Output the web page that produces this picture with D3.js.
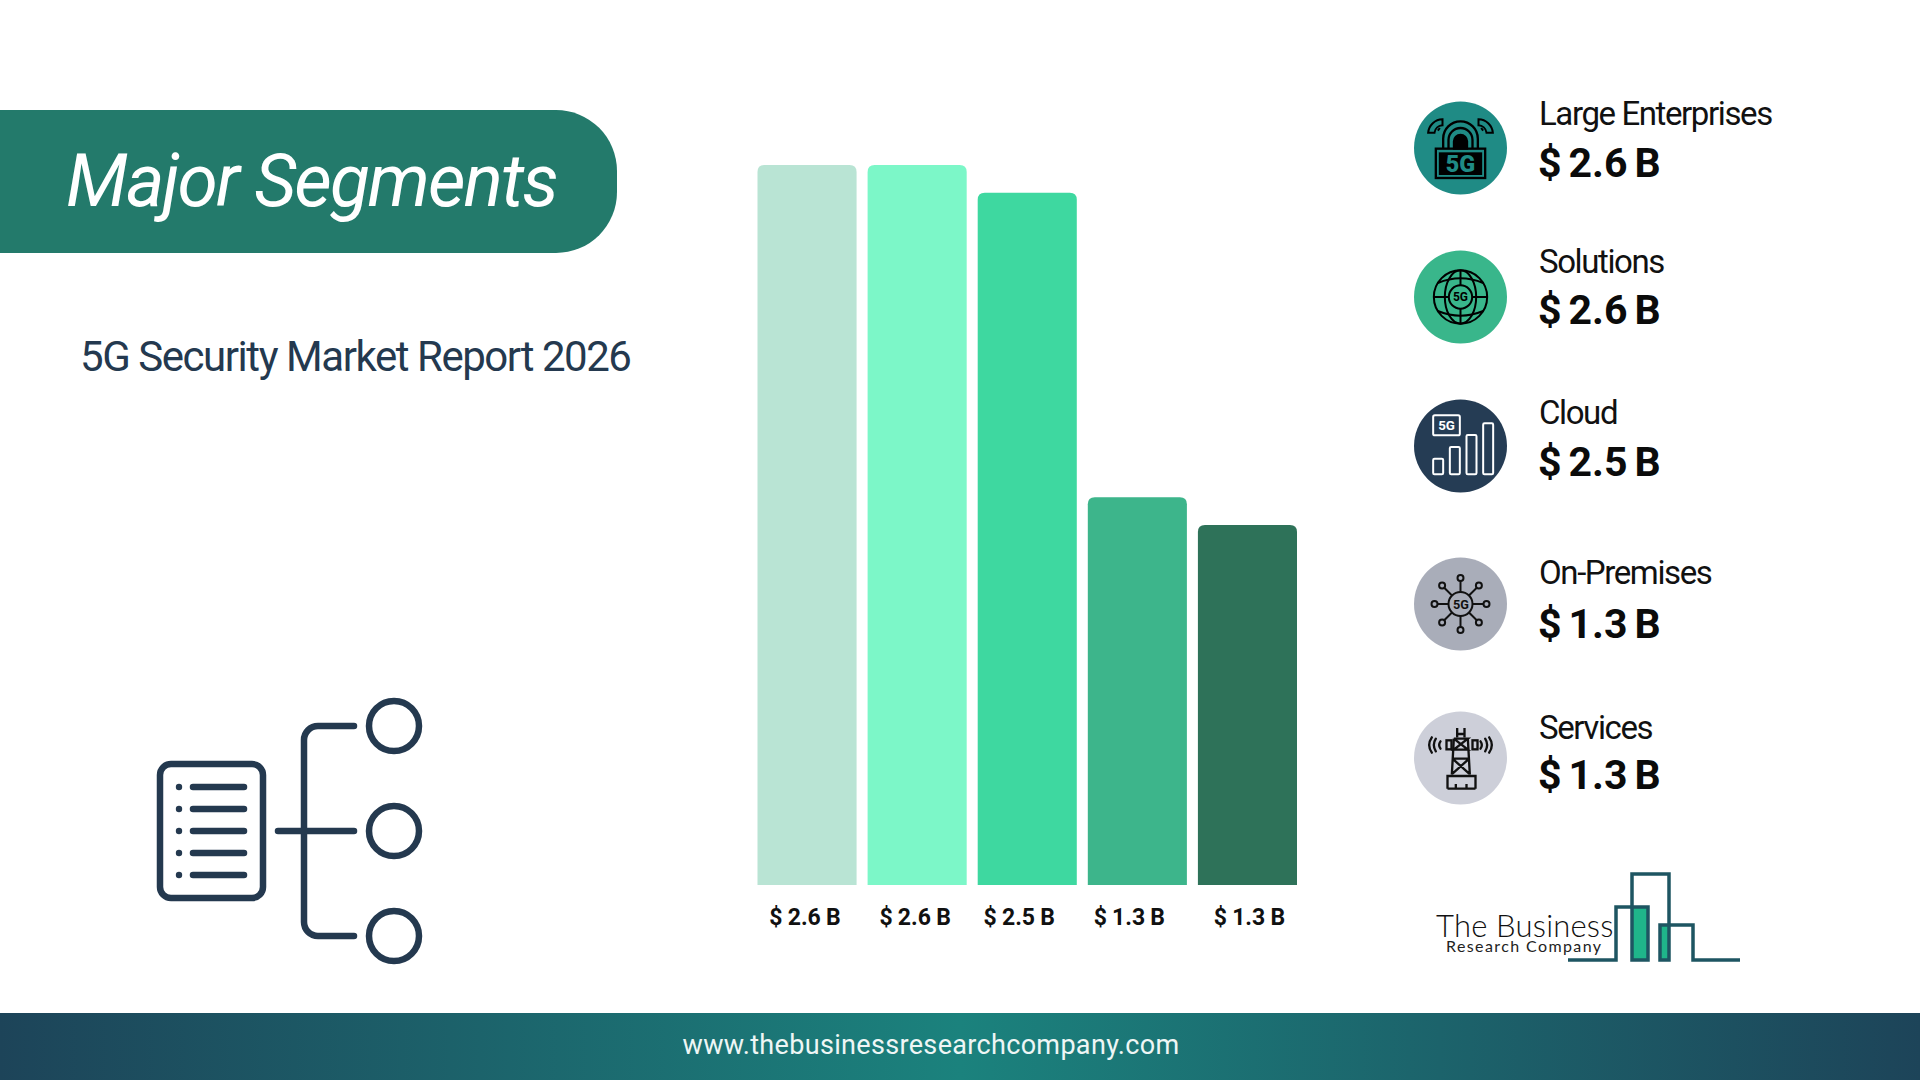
<!DOCTYPE html>
<html lang="en">
<head>
<meta charset="UTF-8">
<title>5G Security Market Report 2026 - Major Segments</title>
<script src="https://cdn.jsdelivr.net/npm/d3@7"></script>
<style>
    html, body { margin: 0; padding: 0; background: #fff; }
    svg { display: block; }
    text { font-family: Roboto, Arial, sans-serif; }
</style>
</head>
<body>
<svg id="chart" width="1920" height="1080"></svg>
<script>
// data
const categories = ["Large Enterprises", "Solutions", "Cloud", "On-Premises", "Services"];
const barValues = [2.6, 2.6, 2.5, 1.4, 1.3];
const valueLabels = ["$ 2.6 B", "$ 2.6 B", "$ 2.5 B", "$ 1.3 B", "$ 1.3 B"];
const barColors = ["#b9e4d4", "#7cf7c8", "#3ed8a0", "#3db58b", "#2e7259"];
const iconColors = ["#1f8b85", "#39b68b", "#253c54", "#a9adb9", "#cdcfd9"];

const svg = d3.select("#chart");
const defs = svg.append("defs");

const navy = "#24394f";

// footer
const grad = defs.append("linearGradient").attr("id", "footerGrad");
grad.append("stop").attr("offset", "0%").attr("stop-color", "#1d4459");
grad.append("stop").attr("offset", "50%").attr("stop-color", "#1b827d");
grad.append("stop").attr("offset", "100%").attr("stop-color", "#1d4459");
svg.append("rect").attr("x", 0).attr("y", 1013).attr("width", 1920).attr("height", 67).attr("fill", "url(#footerGrad)");
svg.append("text").attr("x", 931).attr("y", 1054).attr("text-anchor", "middle")
    .attr("font-size", 27).attr("letter-spacing", 0.33).attr("fill", "#eef6f5")
    .text("www.thebusinessresearchcompany.com");

// title pill
svg.append("path")
    .attr("d", "M0,110 H556 A61,61 0 0 1 617,171 V192 A61,61 0 0 1 556,253 H0 Z")
    .attr("fill", "#237a6b");
svg.append("text").attr("x", 66).attr("y", 206)
    .attr("font-size", 73).attr("font-style", "italic").attr("font-weight", 400)
    .attr("letter-spacing", -1.9).attr("fill", "#fff").text("Major Segments");
svg.append("text").attr("x", 80).attr("y", 371)
    .attr("font-size", 42).attr("letter-spacing", -1.45).attr("fill", navy)
    .text("5G Security Market Report 2026");

// segments icon, bottom left
const seg = svg.append("g").attr("fill", "none").attr("stroke", navy)
    .attr("stroke-width", 6.5).attr("stroke-linecap", "round");
seg.append("rect").attr("x", 160).attr("y", 764).attr("width", 103).attr("height", 134).attr("rx", 11);
[787, 809, 831, 853, 875].forEach(y => {
    seg.append("line").attr("x1", 193).attr("x2", 244).attr("y1", y).attr("y2", y);
    seg.append("circle").attr("cx", 179).attr("cy", y).attr("r", 3.2).attr("fill", navy).attr("stroke", "none");
});
seg.append("path").attr("d", "M354,726 H318 A14,14 0 0 0 304,740 V922 A14,14 0 0 0 318,936 H354");
seg.append("line").attr("x1", 278).attr("x2", 354).attr("y1", 831).attr("y2", 831);
[726, 831, 936].forEach(y => {
    seg.append("circle").attr("cx", 394).attr("cy", y).attr("r", 25).attr("stroke-width", 6.5);
});

// bars
const x = d3.scaleBand().domain(d3.range(barValues.length)).range([757.5, 1297]).paddingInner(0.1);
const y = d3.scaleLinear().domain([0, 2.6]).range([885, 165]);
const labelNudge = [-2, -2, -8, -8, 2];

function topRounded(x0, y0, w, h, r) {
    const p = d3.path();
    p.moveTo(x0, y0 + h);
    p.lineTo(x0, y0 + r);
    p.quadraticCurveTo(x0, y0, x0 + r, y0);
    p.lineTo(x0 + w - r, y0);
    p.quadraticCurveTo(x0 + w, y0, x0 + w, y0 + r);
    p.lineTo(x0 + w, y0 + h);
    p.closePath();
    return p.toString();
}

svg.append("g").selectAll("path").data(barValues).join("path")
    .attr("d", (d, i) => topRounded(x(i), y(d), x.bandwidth(), y(0) - y(d), 7))
    .attr("fill", (d, i) => barColors[i]);

svg.append("g").selectAll("text").data(valueLabels).join("text")
    .attr("x", (d, i) => x(i) + x.bandwidth() / 2 + labelNudge[i])
    .attr("y", 925)
    .attr("text-anchor", "middle")
    .attr("font-size", 23).attr("font-weight", 700).attr("word-spacing", -0.5).attr("fill", "#111")
    .text(d => d);

// legend on the right
const legendCy = [148, 297, 446, 604, 758];
const nameBase = [125, 273, 424, 584, 739];
const valueBase = [177, 324, 476, 638, 789];

categories.forEach((name, i) => {
    svg.append("circle").attr("cx", 1460.5).attr("cy", legendCy[i]).attr("r", 46.5).attr("fill", iconColors[i]);
    svg.append("text").attr("x", 1539).attr("y", nameBase[i])
        .attr("font-size", 33).attr("letter-spacing", -1.4).attr("fill", "#111").text(name);
    svg.append("text").attr("x", 1538).attr("y", valueBase[i])
        .attr("font-size", 41).attr("font-weight", 700).attr("word-spacing", -3.2).attr("fill", "#0b0b0b").text(valueLabels[i]);
});

// icons are drawn in 3x units around the circle centre
function iconGroup(i, stroke) {
    return svg.append("g")
        .attr("transform", `translate(1460.5,${legendCy[i]}) scale(0.3333)`)
        .attr("fill", "none").attr("stroke", stroke).attr("stroke-width", 6);
}
function iconText(g, label, size, fill, cx, dy, weight) {
    g.append("text").attr("x", cx).attr("y", dy).attr("text-anchor", "middle").attr("font-size", size)
        .attr("font-weight", weight || 700)
        .attr("fill", fill).attr("stroke", "none").text(label);
}

// lock
const lock = iconGroup(0, "#000");
lock.append("path").attr("stroke-width", 7).attr("d", "M-52,2 V-28 A52,52 0 0 1 52,-28 V2");
lock.append("path").attr("stroke-width", 7).attr("d", "M-36,2 V-24 A36,36 0 0 1 36,-24 V2");
lock.append("path").attr("fill", "#000").attr("d", "M-20,2 V-20 A20,20 0 0 1 20,-20 V2 Z");
lock.append("rect").attr("x", -74).attr("y", 2).attr("width", 148).attr("height", 88).attr("stroke-width", 7);
lock.append("rect").attr("x", -62).attr("y", 16).attr("width", 124).attr("height", 62).attr("fill", "#000");
iconText(lock, "5G", 70, iconColors[0], 0, 72, 900);
[-1, 1].forEach(s => {
    const w = lock.append("g").attr("transform", `scale(${s},1)`).attr("stroke-width", 6);
    w.append("path").attr("d", "M54,-86 A44,44 0 0 1 97,-46 L78,-46 A26,26 0 0 0 54,-68 Z");
    w.append("path").attr("d", "M62,-60 L68,-52");
});

// globe
const globe = iconGroup(1, "#000");
globe.append("circle").attr("r", 80);
globe.append("ellipse").attr("rx", 47).attr("ry", 80);
globe.append("line").attr("y1", -80).attr("y2", 80);
globe.append("path").attr("d", "M-68,-42 Q0,-70 68,-42 M-68,42 Q0,70 68,42");
globe.append("line").attr("x1", -80).attr("x2", 80);
globe.append("circle").attr("r", 35).attr("fill", iconColors[1]);
iconText(globe, "5G", 36, "#000", 0, 13);

// signal bars
const signal = iconGroup(2, "#fff");
signal.append("rect").attr("x", -82).attr("y", -92).attr("width", 80).attr("height", 60).attr("rx", 5);
iconText(signal, "5G", 40, "#fff", -42, -47);
[[-82, 38], [-32, 3], [18, -33], [68, -68]].forEach(b => {
    signal.append("rect").attr("x", b[0]).attr("y", b[1]).attr("width", 30).attr("height", 85 - b[1]).attr("rx", 4);
});

// network node
const node = iconGroup(3, "#111");
node.append("circle").attr("r", 36);
iconText(node, "5G", 38, "#111", 1, 14);
d3.range(8).forEach(k => {
    const a = k * Math.PI / 4;
    const c = Math.cos(a), s = Math.sin(a);
    node.append("line").attr("x1", 36 * c).attr("y1", 36 * s).attr("x2", 69 * c).attr("y2", 69 * s);
    node.append("circle").attr("cx", 78 * c).attr("cy", 78 * s).attr("r", 9);
});

// antenna tower
const tower = iconGroup(4, "#111").attr("stroke-width", 7);
tower.append("path").attr("d",
    "M-10,-90 V-62 M12,-90 V-62 M-10,-72 H12 M-20,-58 H22 L-20,-25 H22 L-20,-58 " +
    "M-20,-58 L-26,50 M22,-58 L28,50 M-24,2 L26,47 M26,2 L-24,47 M-24,2 H26");
tower.append("path").attr("d", "M-39,92 V54 H45 V92 M-39,92 H45 M-14,78 V92 M18,78 V92");
tower.append("rect").attr("x", -42).attr("y", -53).attr("width", 15).attr("height", 27);
tower.append("rect").attr("x", 36).attr("y", -53).attr("width", 15).attr("height", 27);
[-1, 1].forEach(s => {
    const w = tower.append("g").attr("transform", `scale(${s},1)`).attr("stroke-linecap", "round");
    w.append("path").attr("d", "M60,-50 Q68,-39 60,-28");
    w.append("path").attr("d", "M74,-58 Q86,-39 74,-20");
    w.append("path").attr("d", "M86,-62 Q102,-39 86,-16");
});

// logo
const logoLine = "#1e5562";
svg.append("rect").attr("x", 1632).attr("y", 907).attr("width", 16).attr("height", 53).attr("fill", "#1fb58a");
svg.append("rect").attr("x", 1660).attr("y", 925).attr("width", 9).attr("height", 35).attr("fill", "#1fb58a");
svg.append("path")
    .attr("d", "M1568,960 H1616 V907 H1648 V960 H1632 V874 H1669 V960 H1660 V925 H1693 V960 H1740")
    .attr("fill", "none").attr("stroke", logoLine).attr("stroke-width", 3.5);
svg.append("text").attr("x", 1436).attr("y", 937)
    .style("font-family", "Lato, sans-serif").attr("font-weight", 300)
    .attr("font-size", 31).attr("letter-spacing", 0.2).attr("fill", "#111").text("The Business");
svg.append("text").attr("x", 1446).attr("y", 952)
    .style("font-family", "Lato, sans-serif")
    .attr("font-size", 16).attr("letter-spacing", 1.4).attr("fill", "#222").text("Research Company");
</script>
</body>
</html>
